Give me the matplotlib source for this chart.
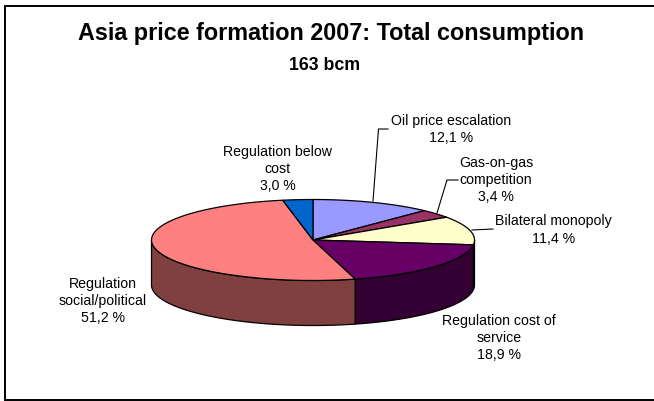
import numpy as np
from matplotlib import pyplot as plt
from matplotlib.patches import Polygon

# slices clockwise from 12 o'clock
names = ['Oil price escalation', 'Gas-on-gas\ncompetition', 'Bilateral monopoly',
         'Regulation cost of\nservice', 'Regulation\nsocial/political', 'Regulation below\ncost']
shares = [12.1, 3.4, 11.4, 18.9, 51.2, 3.0]
top_colors = ['#9999FF', '#993366', '#FFFFCC', '#660066', '#FF8080', '#0066CC']
side_colors = ['#4D4D80', '#4D1A33', '#808066', '#330033', '#804040', '#003366']

title = 'Asia price formation 2007: Total consumption'
subtitle = '163 bcm'

# pie geometry in pixels
cx, cy = 313, 240
rx, ry = 161.5, 40.5
depth = 45

# label centres in pixels, same order as the slices
label_x = [451, 496, 553.5, 499, 103, 277.5]
label_y = [129.5, 180, 230, 338, 301, 169]

fig = plt.figure(figsize=(6.54, 4.01), dpi=100)
ax = fig.add_axes([0, 0, 1, 1])
ax.set_xlim(0, 654)
ax.set_ylim(401, 0)
ax.axis('off')
plt.rcParams['font.family'] = ['Liberation Sans', 'DejaVu Sans']


def rim(t0, t1, dy=0.0):
    t = np.radians(np.linspace(t0, t1, 120))
    return np.column_stack([cx + rx * np.sin(t), cy - ry * np.cos(t) + dy])


# frame, open on the right
ax.plot([654, 5, 5, 654], [5.5, 5.5, 400, 400], color='black', lw=1.4, solid_joinstyle='miter')

edges = np.cumsum([0] + shares) * 3.6

# side walls, only the part facing the viewer
for i in range(len(shares)):
    a, b = max(edges[i], 90), min(edges[i + 1], 270)
    if a < b:
        wall = np.vstack([rim(a, b), rim(a, b, depth)[::-1]])
        ax.add_patch(Polygon(wall, closed=True, fc=side_colors[i], ec='black', lw=0.9, zorder=2))

# top surface
for i in range(len(shares)):
    pts = np.vstack([[cx, cy], rim(edges[i], edges[i + 1])])
    ax.add_patch(Polygon(pts, closed=True, fc=top_colors[i], ec='black', lw=0.9, zorder=3))

# leader lines
ax.plot([373, 378.5, 388], [201, 129, 129], color='black', lw=0.8, zorder=4)
ax.plot([437, 447, 458], [213, 180, 180], color='black', lw=0.8, zorder=4)
ax.plot([472, 493], [230, 229], color='black', lw=0.8, zorder=4)

for name, share, x, y in zip(names, shares, label_x, label_y):
    txt = name + '\n' + f'{share:.1f} %'.replace('.', ',')
    ax.text(x, y, txt, ha='center', va='center', fontsize=10.2, linespacing=1.29, color='black')

ax.text(331.5, 40.3, title, ha='center', va='baseline', fontsize=16.8, fontweight='bold')
ax.text(324.5, 70.5, subtitle, ha='center', va='baseline', fontsize=12.8, fontweight='bold')

fig.savefig('out.png', dpi=100)
